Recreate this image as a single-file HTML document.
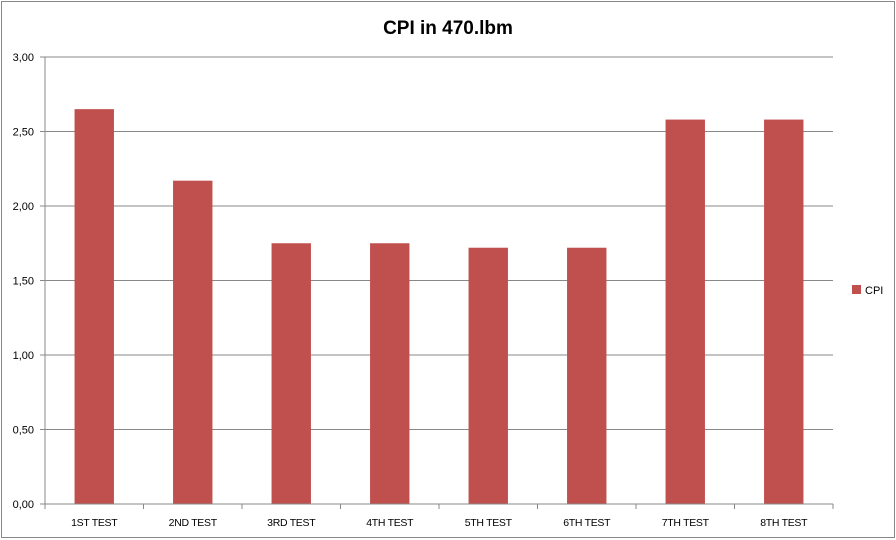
<!DOCTYPE html>
<html><head><meta charset="utf-8"><style>
body{margin:0;background:#fff;}
svg{display:block;font-family:"Liberation Sans",sans-serif;}
</style></head><body>
<svg id="c" width="896" height="540">
<rect x="1.5" y="1.5" width="893" height="536" fill="#fff" stroke="#888"/>
<text x="448" y="34" text-anchor="middle" font-size="19" font-weight="bold">CPI in 470.lbm</text>
<g id="grid"></g><g id="bars"></g><g id="axes"></g>
<rect x="852" y="285" width="9" height="9" fill="#c0504d"/>
<text x="865" y="294" font-size="11">CPI</text>
</svg>
<script>
const categories=["1ST TEST","2ND TEST","3RD TEST","4TH TEST","5TH TEST","6TH TEST","7TH TEST","8TH TEST"];
const cpiValues=[2.65,2.17,1.75,1.75,1.72,1.72,2.58,2.58];
const yTicks=[0,0.5,1,1.5,2,2.5,3];
const yTickLabels=["0,00","0,50","1,00","1,50","2,00","2,50","3,00"];
const L=45,R=833,T=57,B=504,yMax=3;
const ns="http://www.w3.org/2000/svg";
const y=v=>B-(v/yMax)*(B-T);
const bw=(R-L)/categories.length;
const x=i=>L+i*bw;
function mk(t,a,p){const e=document.createElementNS(ns,t);for(const k in a)e.setAttribute(k,a[k]);p.appendChild(e);return e;}
const g=document.getElementById('grid'),b=document.getElementById('bars'),ax=document.getElementById('axes');
yTicks.forEach((v,i)=>{
 if(v>0){const l=mk('line',{x1:L,x2:R,y1:y(v),y2:y(v),stroke:'#888','stroke-width':1},g);
 
 }
 const tk=mk('line',{x1:L-5,x2:L,y1:y(v),y2:y(v),stroke:'#888'},ax);
 
 
 const t=mk('text',{x:L-11,y:y(v)+4,'text-anchor':'end','font-size':11},ax);t.textContent=yTickLabels[i];
 
 
});
cpiValues.forEach((v,i)=>{
 const r=mk('rect',{x:x(i)+bw*0.3,y:y(v),width:bw*0.4,height:B-y(v),fill:'#c0504d'},b);
 
 
 const t=mk('text',{x:x(i)+bw/2,y:526,'text-anchor':'middle','font-size':10.5,'letter-spacing':'-0.3'},ax);t.textContent=categories[i];
 
 
});
for(let i=0;i<=categories.length;i++){const tk=mk('line',{x1:x(i),x2:x(i),y1:B,y2:B+5,stroke:'#888'},ax);
 
 }
const ya=mk('line',{x1:L,x2:L,y1:T,y2:B,stroke:'#888'},ax);


const xa=mk('line',{x1:L,x2:R,y1:B,y2:B,stroke:'#888'},ax);


</script>
</body></html>
